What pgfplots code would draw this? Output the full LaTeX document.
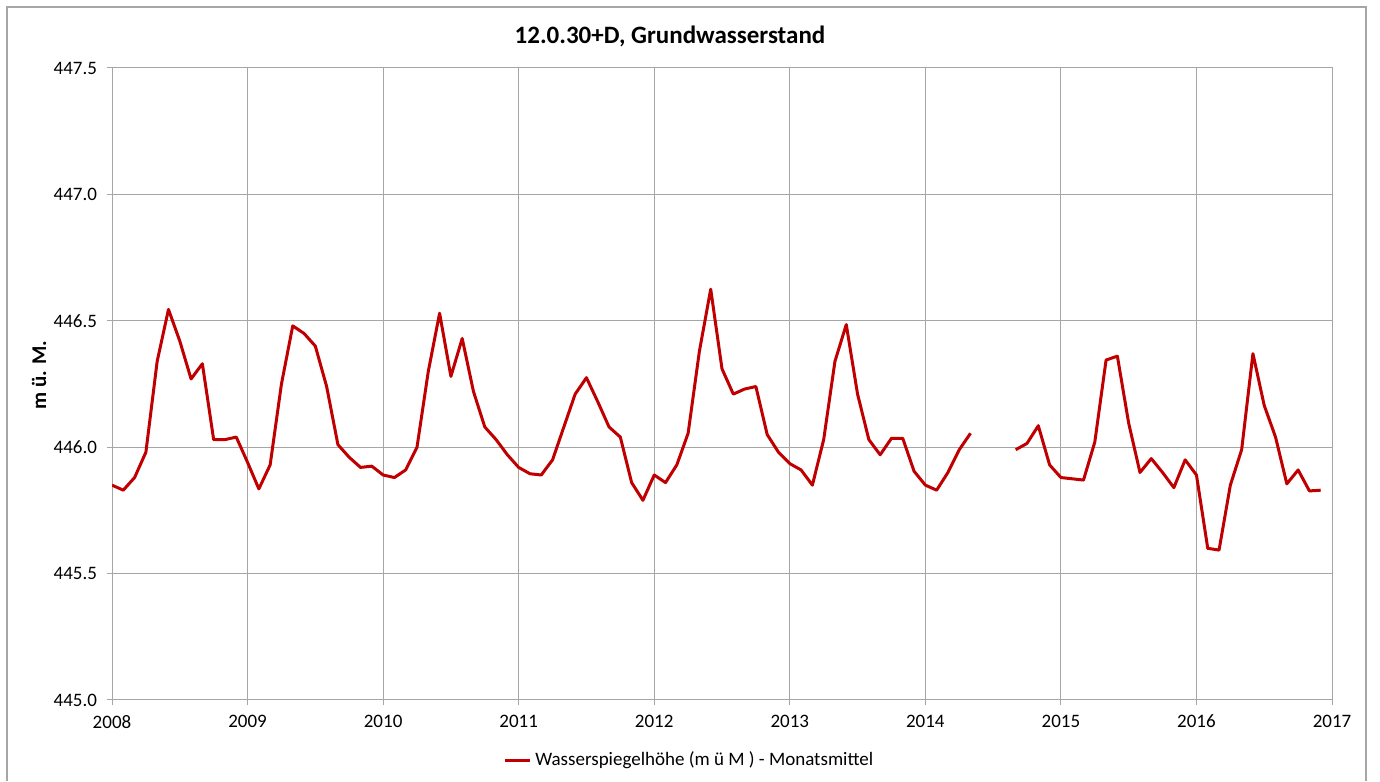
\documentclass[border=0pt]{standalone}
\usepackage{fontspec}
\setmainfont{Carlito}
\usepackage{pgfplots}
\pgfplotsset{compat=1.18}
\definecolor{linered}{HTML}{C00000}
\definecolor{gridgray}{HTML}{A6A6A6}
\begin{document}
\begin{tikzpicture}
\path[use as bounding box] (0pt,0pt) rectangle (690pt,390.5pt);
\draw[gridgray, line width=0.6pt] (3.5pt,0pt) -- (3.5pt,387pt) -- (683pt,387pt) -- (683pt,0pt);
\node[font=\bfseries\fontsize{12.5}{15}\selectfont] at (335pt,372.5pt) {12.0.30+D, Grundwasserstand};
\node[font=\bfseries\fontsize{10.5}{12}\selectfont, rotate=90] at (19.5pt,203pt) {m ü. M.};
\begin{axis}[
  at={(56pt,40.5pt)}, anchor=south west,
  scale only axis, width=610pt, height=316pt,
  xmin=0, xmax=108, ymin=445, ymax=447.5,
  xtick={0,12,24,36,48,60,72,84,96,108},
  xticklabels={2008,2009,2010,2011,2012,2013,2014,2015,2016,2017},
  ytick={445,445.5,446,446.5,447,447.5},
  yticklabel style={xshift=-1.5pt, /pgf/number format/.cd, fixed, fixed zerofill, precision=1},
  /pgf/number format/assume math mode=true,
  tick label style={font=\fontsize{9.5}{11}\selectfont, black},
  xticklabel style={yshift=-1.5pt},
  grid=major,
  grid style={gridgray, line width=0.5pt},
  axis line style={gridgray, line width=0.5pt},
  tick style={gridgray, line width=0.5pt},
  tick align=outside, major tick length=2.5pt,
  xtick pos=bottom, ytick pos=left,
  unbounded coords=jump,
  legend style={at={(0.474,-0.095)}, anchor=center, draw=none, fill=none,
    font=\fontsize{9.5}{11}\selectfont, inner sep=0pt},
  legend image code/.code={\draw[#1] (0pt,0pt) -- (12.5pt,0pt);},
]
\addplot[linered, line width=1.5pt, line join=round] coordinates {
(0,445.85) (1,445.83) (2,445.88) (3,445.98) (4,446.34) (5,446.545) (6,446.42) (7,446.27) (8,446.33) (9,446.03) (10,446.03) (11,446.04)
(12,445.94) (13,445.835) (14,445.93) (15,446.25) (16,446.48) (17,446.45) (18,446.40) (19,446.24) (20,446.01) (21,445.96) (22,445.92) (23,445.925)
(24,445.89) (25,445.88) (26,445.91) (27,446.00) (28,446.30) (29,446.53) (30,446.28) (31,446.43) (32,446.22) (33,446.08) (34,446.03) (35,445.97)
(36,445.92) (37,445.895) (38,445.89) (39,445.95) (40,446.08) (41,446.21) (42,446.275) (43,446.18) (44,446.08) (45,446.04) (46,445.86) (47,445.79)
(48,445.89) (49,445.86) (50,445.93) (51,446.055) (52,446.38) (53,446.625) (54,446.31) (55,446.21) (56,446.23) (57,446.24) (58,446.05) (59,445.98)
(60,445.935) (61,445.91) (62,445.85) (63,446.03) (64,446.34) (65,446.485) (66,446.21) (67,446.03) (68,445.97) (69,446.035) (70,446.035) (71,445.905)
(72,445.85) (73,445.83) (74,445.90) (75,445.99) (76,446.055) (77,nan)
(80,445.99) (81,446.015) (82,446.085) (83,445.93)
(84,445.88) (85,445.875) (86,445.87) (87,446.02) (88,446.345) (89,446.36) (90,446.095) (91,445.90) (92,445.955) (93,445.90) (94,445.84) (95,445.95)
(96,445.89) (97,445.60) (98,445.593) (99,445.85) (100,445.99) (101,446.37) (102,446.165) (103,446.04) (104,445.855) (105,445.91) (106,445.827) (107,445.83)
};
\addlegendentry{Wasserspiegelhöhe (m ü M ) - Monatsmittel}
\end{axis}
\end{tikzpicture}
\end{document}
